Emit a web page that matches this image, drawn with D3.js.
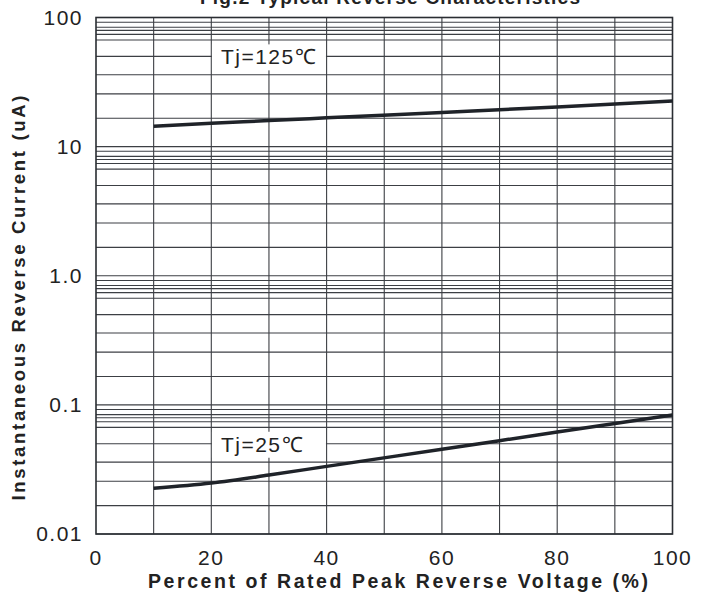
<!DOCTYPE html>
<html>
<head>
<meta charset="utf-8">
<script src="https://cdn.jsdelivr.net/npm/d3@7"></script>
<style>
  html, body { margin: 0; padding: 0; background: #fff; }
  svg { display: block; }
</style>
</head>
<body>
<div id="chart"></div>
<script>
// Percent of rated peak reverse voltage
const voltage = [10, 20, 30, 40, 60, 80, 100];
// Reverse current (uA) per junction temperature
const current125 = [14.4, 15.2, 15.9, 16.7, 18.4, 20.3, 22.6];
const current25 = [0.0226, 0.0248, 0.0286, 0.0334, 0.0453, 0.0616, 0.0835];

const seriesLabels = ["Tj=125℃", "Tj=25℃"];
const labelAnchors = [[30, 50], [30, 0.05]];

const xTicks = [0, 20, 40, 60, 80, 100];
const xGrid = [10, 20, 30, 40, 50, 60, 70, 80, 90];
const yTicks = [0.01, 0.1, 1, 10, 100];
const yTickLabels = ["0.01", "0.1", "1.0", "10", "100"];
const decades = [0.01, 0.1, 1, 10];
const minorSteps = [1.66, 2.56, 3.6, 5.0, 6.7, 7.4, 7.95, 8.4, 9.2];

const W = 710, H = 592;
const margin = { top: 17.5, right: 37.5, bottom: 58, left: 96 };
const width = W - margin.left - margin.right;
const height = H - margin.top - margin.bottom;
const font = "Liberation Sans, Arial, sans-serif";

const svg = d3.select("#chart")
  .append("svg")
  .attr("width", W)
  .attr("height", H);

const g = svg.append("g")
  .attr("transform", `translate(${margin.left},${margin.top})`);

const x = d3.scaleLinear().domain([0, 100]).range([0, width]);
const y = d3.scaleLog().domain([0.01, 100]).range([height, 0]);

// Title (cut off at top edge in the original)
svg.append("text")
  .attr("x", 390)
  .attr("y", 4)
  .attr("text-anchor", "middle")
  .attr("font-family", font)
  .attr("font-weight", "bold")
  .attr("font-size", 19)
  .attr("textLength", 380)
  .attr("lengthAdjust", "spacing")
  .attr("fill", "#222")
  .text("Fig.2 Typical Reverse Characteristics");

// Horizontal grid
const hLines = [];
decades.forEach(d => minorSteps.forEach(m => hLines.push(d * m)));
yTicks.forEach(v => hLines.push(v));

g.append("g")
  .selectAll("line")
  .data(hLines)
  .enter()
  .append("line")
  .attr("x1", 0)
  .attr("x2", width)
  .attr("y1", d => y(d))
  .attr("y2", d => y(d))
  .attr("stroke", "#3c3f44")
  .attr("stroke-width", 1.1);

// Vertical grid
g.append("g")
  .selectAll("line")
  .data(xGrid)
  .enter()
  .append("line")
  .attr("x1", d => x(d))
  .attr("x2", d => x(d))
  .attr("y1", 0)
  .attr("y2", height)
  .attr("stroke", "#3c3f44")
  .attr("stroke-width", 1.1);

// Frame
g.append("rect")
  .attr("x", 0)
  .attr("y", 0)
  .attr("width", width)
  .attr("height", height)
  .attr("fill", "none")
  .attr("stroke", "#2a2d32")
  .attr("stroke-width", 1.6);

// Curves
const line = d3.line()
  .x((d, i) => x(voltage[i]))
  .y(d => y(d))
  .curve(d3.curveMonotoneX);

[current125, current25].forEach(series => {
  g.append("path")
    .datum(series)
    .attr("d", line)
    .attr("fill", "none")
    .attr("stroke", "#1f2329")
    .attr("stroke-width", 3.5);
});

// Series labels with white box
seriesLabels.forEach((label, i) => {
  const [ax, ay] = labelAnchors[i];
  g.append("rect")
    .attr("x", x(ax) - 57)
    .attr("y", y(ay) - 12)
    .attr("width", 114)
    .attr("height", 26)
    .attr("fill", "#fff");
  g.append("text")
    .attr("x", x(ax) - 48)
    .attr("y", y(ay) + 8)
    .attr("font-family", font)
    .attr("font-size", 21)
    .attr("letter-spacing", 1.5)
    .attr("fill", "#222")
    .text(label);
});

// X tick labels
g.append("g")
  .selectAll("text")
  .data(xTicks)
  .enter()
  .append("text")
  .attr("x", d => x(d))
  .attr("y", height + 31)
  .attr("text-anchor", "middle")
  .attr("font-family", font)
  .attr("font-size", 21)
  .attr("letter-spacing", 1.5)
  .attr("fill", "#222")
  .text(d => d);

// Y tick labels
g.append("g")
  .selectAll("text")
  .data(yTicks)
  .enter()
  .append("text")
  .attr("x", -13)
  .attr("y", d => y(d) + 7)
  .attr("text-anchor", "end")
  .attr("font-family", font)
  .attr("font-size", 21)
  .attr("letter-spacing", 1.5)
  .attr("fill", "#222")
  .text((d, i) => yTickLabels[i]);

// Axis titles
svg.append("text")
  .attr("x", 398)
  .attr("y", 588)
  .attr("text-anchor", "middle")
  .attr("font-family", font)
  .attr("font-weight", "bold")
  .attr("font-size", 19.5)
  .attr("textLength", 500)
  .attr("lengthAdjust", "spacing")
  .attr("fill", "#222")
  .text("Percent of Rated Peak Reverse Voltage  (%)");

svg.append("text")
  .attr("transform", "translate(25,298) rotate(-90)")
  .attr("text-anchor", "middle")
  .attr("font-family", font)
  .attr("font-weight", "bold")
  .attr("font-size", 18.5)
  .attr("textLength", 405)
  .attr("lengthAdjust", "spacing")
  .attr("fill", "#222")
  .text("Instantaneous Reverse Current (uA)");
</script>
</body>
</html>
